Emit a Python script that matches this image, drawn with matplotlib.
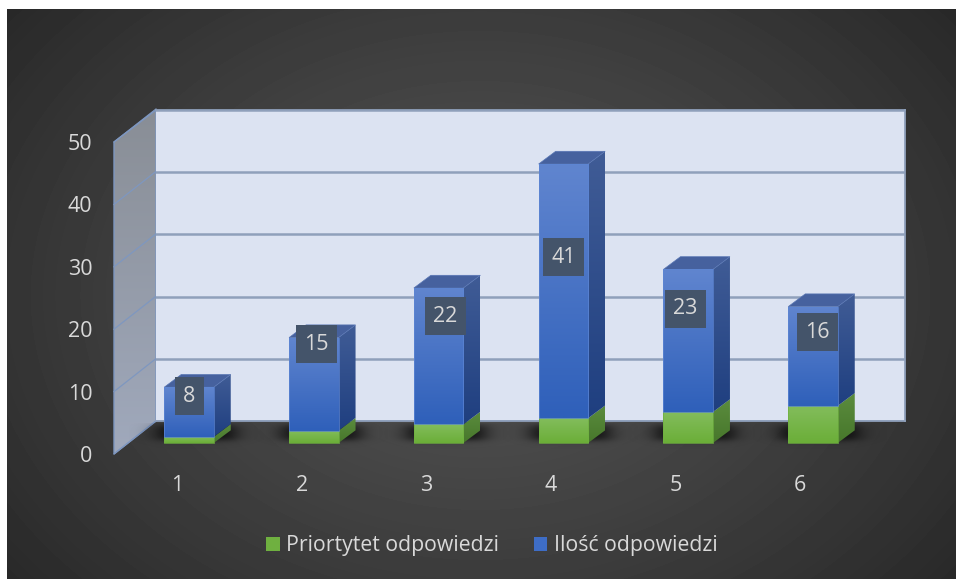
import numpy as np
import matplotlib
matplotlib.use("Agg")
import matplotlib.pyplot as plt
from matplotlib.colors import to_rgb
from matplotlib.patches import Polygon, Patch

categories = [1, 2, 3, 4, 5, 6]
priorytet = [1, 2, 3, 4, 5, 6]
ilosc = [8, 15, 22, 41, 23, 16]
value_ticks = [0, 10, 20, 30, 40, 50]
series_names = ["Priortytet odpowiedzi", "Ilość odpowiedzi"]

# layout (pixels of the 956x579 picture)
W, H = 956, 579
plt.rcParams['font.family'] = ['Open Sans', 'Noto Sans', 'DejaVu Sans']
TXT = '#D9D9D9'
label_dx = [0.5, 2.5, 7, 0.5, -3, 4.5]
label_cy = [396, 344, 316, 257, 309, 332]

fig = plt.figure(figsize=(W / 100, H / 100), dpi=100, facecolor='white')

def px_axes(l, t, r, b, z):
    a = fig.add_axes([l / W, 1 - b / H, (r - l) / W, (b - t) / H])
    a.set_zorder(z)
    return a

def vgrad(c1, c2, n=64):
    c1, c2 = np.array(to_rgb(c1)), np.array(to_rgb(c2))
    t = np.linspace(0, 1, n)[:, None, None]
    return c1[None, None, :] * (1 - t) + c2[None, None, :] * t

# background + left wall (pixel coordinates)
bg = px_axes(0, 0, W, H, 0)
bg.axis('off')
yy, xx = np.mgrid[9:H, 7:W]
r = np.hypot((xx - 480) / 620, (yy - 295) / 470)
g = np.clip(0.33 - 0.175 * np.clip(r, 0, 1.0) ** 1.2, 0, 1)
bg.imshow(g, cmap='gray', vmin=0, vmax=1, extent=[7, W, H, 9], aspect='auto', interpolation='bilinear')
left_pts = [(114, 142), (156, 110), (156, 421), (114, 454)]
lw_im = bg.imshow(vgrad('#898E96', '#A0A9BC'), extent=[114, 156, 454, 110], aspect='auto', interpolation='bilinear')
lw_poly = Polygon(left_pts, closed=True, fc='none', ec='#7E97C0', lw=1.0)
bg.add_patch(lw_poly)
lw_im.set_clip_path(lw_poly)
for v in value_ticks:
    y = 454 - v * 6.24
    bg.plot([114, 156], [y, y - 33], color='#7E97C0', lw=0.9)
bg.set_xlim(0, W)
bg.set_ylim(H, 0)

# back wall
wall = px_axes(156, 110, 905, 421, 1)
wall.set_facecolor('#DCE3F2')
wall.set_xlim(0, 1)
wall.set_ylim(0, 50)
wall.set_yticks(value_ticks)
wall.set_xticks([])
wall.tick_params(left=False, labelleft=False)
wall.grid(axis='y', color='#8FA0BB', lw=1.8)
wall.set_axisbelow(True)
for s in ['top', 'right', 'bottom']:
    wall.spines[s].set_color('#8FA0BB')
    wall.spines[s].set_linewidth(1.3)
wall.spines['left'].set_visible(False)

# front plane with the axis labels
front = px_axes(114, 142, 863, 454, 2)
front.patch.set_alpha(0)
for s in front.spines.values():
    s.set_visible(False)
front.set_ylim(0, 50)
front.set_xlim(1 + (114 - 177) / 124.6, 1 + (863 - 177) / 124.6)
front.set_yticks(value_ticks)
front.set_xticks(categories)
front.tick_params(length=0, colors=TXT, labelsize=15.5)
front.tick_params(axis='y', pad=15.5)
front.tick_params(axis='x', pad=15)

# bars
ax = px_axes(0, 0, W, H, 3)
ax.axis('off')
ax.patch.set_alpha(0)
CW = 124.8
VS = 6.2
xlim = (1 - 189 / CW, 1 + (W - 189) / CW)
ylim = (-(H - 443) / VS, 443 / VS)
DX, DY = 17 / CW, 12.7 / VS
BW = 49.5 / CW

def x_px(p):
    return 1 + (p - 189) / CW

def y_px(p):
    return (443 - p) / VS

def grad_poly(verts, c1, c2, z):
    xs, ys = zip(*verts)
    im = ax.imshow(vgrad(c1, c2), extent=[min(xs), max(xs), min(ys), max(ys)], aspect='auto',
                   interpolation='bilinear', zorder=z)
    p = Polygon(verts, closed=True, fc='none', ec='none', zorder=z)
    ax.add_patch(p)
    im.set_clip_path(p)

def grad_bar(rect, c1, c2, edge, z):
    x0, y0, w, h = rect.get_x(), rect.get_y(), rect.get_width(), rect.get_height()
    im = ax.imshow(vgrad(c1, c2), extent=[x0, x0 + w, y0, y0 + h], aspect='auto',
                   interpolation='bilinear', zorder=z)
    im.set_clip_path(rect)
    rect.set_facecolor('none')
    rect.set_edgecolor(edge)
    rect.set_linewidth(0.5)
    rect.set_zorder(z + 0.1)

green_bars = ax.bar(categories, priorytet, width=BW, zorder=5)
blue_bars = ax.bar(categories, ilosc, bottom=priorytet, width=BW, zorder=5)

for i, c in enumerate(categories):
    # soft floor shadow
    cx = 189 + (c - 1) * CW
    sx = np.arange(cx - 60, cx + 75)
    sy = np.arange(423, 452)
    X, Y = np.meshgrid(sx, sy)
    ax_a = 0.5 * (np.tanh((X - (cx - 32)) / 12) - np.tanh((X - (cx + 46)) / 12))
    ay_a = 0.5 * (np.tanh((Y - 425) / 4) - np.tanh((Y - 440) / 3.5))
    rgba = np.zeros(X.shape + (4,))
    rgba[..., 3] = np.clip(ax_a * ay_a * 0.78, 0, 1)
    ax.imshow(rgba, extent=[x_px(sx[0]), x_px(sx[-1]), y_px(sy[-1]), y_px(sy[0])], aspect='auto',
              interpolation='bilinear', zorder=2)

    xr = c + BW / 2
    xl = c - BW / 2
    p, q = priorytet[i], ilosc[i]
    grad_poly([(xr, 0), (xr + DX, DY), (xr + DX, p + DY), (xr, p)], '#5B8C3E', '#47772B', 4)
    grad_poly([(xr, p), (xr + DX, p + DY), (xr + DX, p + q + DY), (xr, p + q)], '#405C96', '#1F3F80', 4)
    ax.add_patch(Polygon([(xl, p + q), (xl + DX, p + q + DY), (xr + DX, p + q + DY), (xr, p + q)],
                         closed=True, fc='#46619E', ec='#5876B4', lw=0.5, zorder=4))
    grad_bar(green_bars[i], '#83BD5C', '#6BAE38', '#6FB040', 5)
    grad_bar(blue_bars[i], '#6085CF', '#2F60BA', '#5D86D4', 5)
    ax.text(c + label_dx[i] / CW, y_px(label_cy[i]), str(q), ha='center', va='center', color=TXT,
            fontsize=15.5, zorder=8)
    hw = (14.5 if q < 10 else 20.5) / CW
    hh = 19 / VS
    ax.fill_between([c + label_dx[i] / CW - hw, c + label_dx[i] / CW + hw],
                    y_px(label_cy[i]) - hh, y_px(label_cy[i]) + hh, color='#44546A', lw=0, zorder=7)

ax.set_xlim(*xlim)
ax.set_ylim(*ylim)

handles = [Patch(fc='#6FB040', label=series_names[0]), Patch(fc='#3E6DC6', label=series_names[1])]
ax.legend(handles=handles, ncol=2, loc='center', bbox_to_anchor=(492 / W, 1 - 546 / H),
          frameon=False, fontsize=15.3, labelcolor=TXT, handlelength=0.64, handleheight=0.64,
          handletextpad=0.32, columnspacing=1.62)

fig.savefig('out.png', dpi=100)
